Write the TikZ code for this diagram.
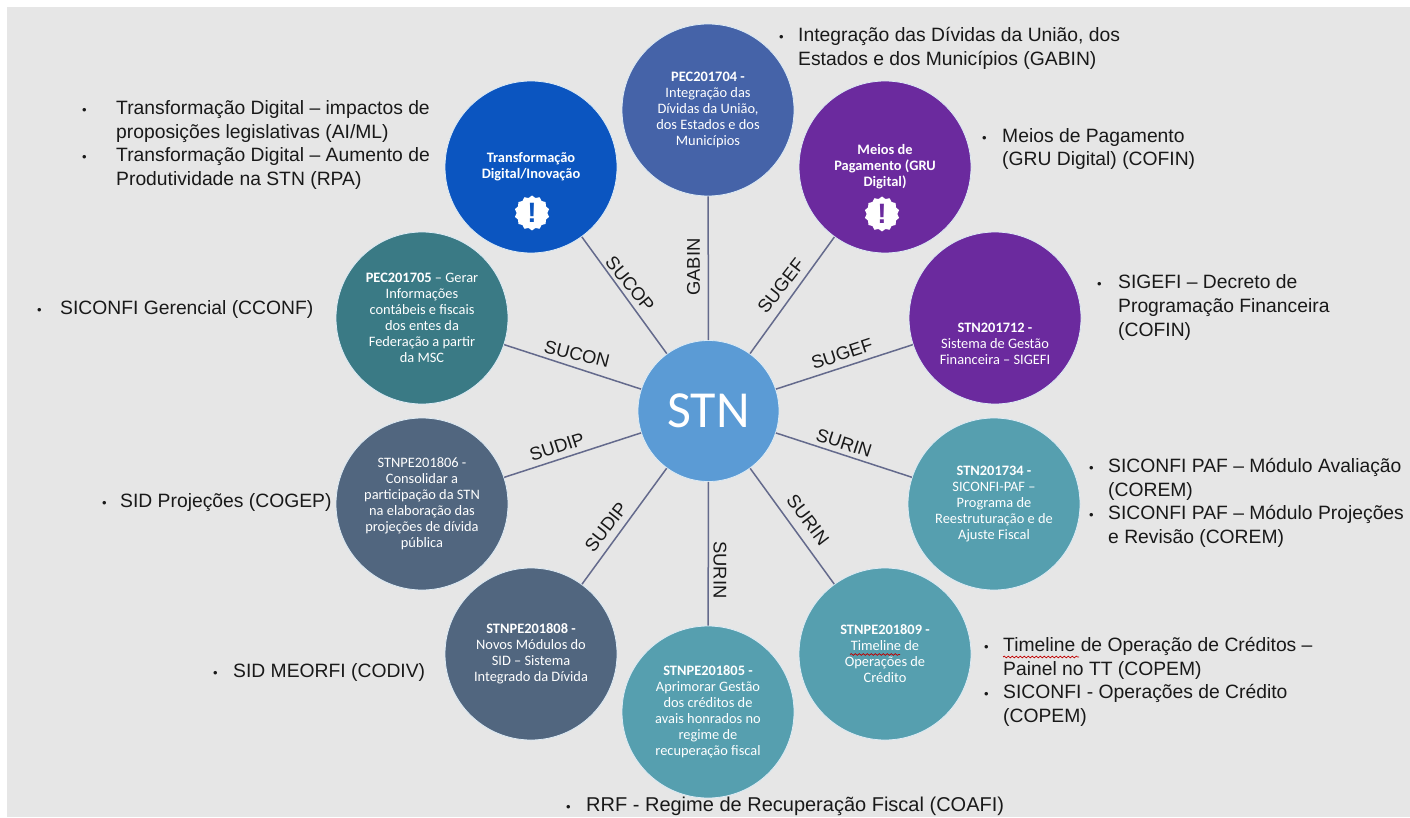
\documentclass[tikz,border=0pt]{standalone}
\usepackage{fontspec}
\setmainfont{Liberation Sans}
\newfontfamily\nodefont{Carlito}
\usetikzlibrary{shapes.geometric,decorations.pathmorphing}
\definecolor{bgc}{HTML}{E6E6E6}
\definecolor{linec}{HTML}{646A8C}
\definecolor{cblue}{HTML}{0B55C0}
\definecolor{cindigo}{HTML}{4563A8}
\definecolor{cpurple}{HTML}{6B2A9E}
\definecolor{cgreen}{HTML}{3A7A85}
\definecolor{cslate}{HTML}{51667F}
\definecolor{cteal}{HTML}{569FAF}
\definecolor{cstn}{HTML}{5B9BD5}
\definecolor{ringc}{HTML}{DDEBF5}
\newcommand{\bl}[1]{\makebox[#1pt][l]{\fontsize{13}{13}\selectfont •}}
\newcommand{\ind}[1]{\hspace*{#1pt}}
\tikzset{
  ball/.style={circle,draw=ringc,line width=0.8pt,minimum size=172pt,inner sep=0pt,text=white,align=center,
     font=\nodefont\fontsize{14.4}{16}\selectfont},
  list/.style={anchor=west,align=left,inner sep=0pt,text=black!90,font=\fontsize{19.3}{23.6}\selectfont},
  tag/.style={inner sep=0pt,text=black!90,font=\fontsize{18.4}{20}\selectfont},
  spoke/.style={draw=linec,line width=1.5pt},
  badge/.style={star,star points=14,star point ratio=1.14,fill=white,minimum size=35pt,inner sep=0pt},
  bang/.style={inner sep=0pt,font=\bfseries\fontsize{28}{28}\selectfont},
  wavy/.style={draw=red!75!black,line width=0.7pt,decorate,decoration={snake,amplitude=0.9pt,segment length=4pt}}
}
\begin{document}
\begin{tikzpicture}[x=1pt,y=-1pt]
\useasboundingbox (0,0) rectangle (1410,818);
\fill[white] (0,0) rectangle (1410,818);
\fill[bgc] (7,7) rectangle (1410,817);

\node[ball,fill=cstn,minimum size=141pt,font=\nodefont\fontsize{52}{52}\selectfont] (stn) at (708.5,411) {STN};

\node[ball,fill=cindigo] (pec704) at (708,110) {\textbf{PEC201704 -}\\Integração das\\Dívidas da União,\\dos Estados e dos\\Municípios};
\node[ball,fill=cblue] (dig) at (531,167) {\textbf{Transformação}\\\textbf{Digital/Inovação}};
\node[ball,fill=cpurple] (gru) at (885,167) {\textbf{Meios de}\\\textbf{Pagamento (GRU}\\\textbf{Digital)}};
\node[ball,fill=cpurple] (s712) at (995,318) {};
\node[text=white,align=center,inner sep=0pt,font=\nodefont\fontsize{14.4}{16}\selectfont] (s712t) at (995,344) {\textbf{STN201712 -}\\Sistema de Gestão\\Financeira – SIGEFI};
\node[ball,fill=cteal] (s734) at (994,504) {\textbf{STN201734 -}\\SICONFI-PAF –\\Programa de\\Reestruturação e de\\Ajuste Fiscal};
\node[ball,fill=cteal] (s809) at (885,654) {\textbf{STNPE201809 -}\\Timeline de\\Operações de\\Crédito};
\node[ball,fill=cteal] (s805) at (708,712) {\textbf{STNPE201805 -}\\Aprimorar Gestão\\dos créditos de\\avais honrados no\\regime de\\recuperação fiscal};
\node[ball,fill=cslate] (s808) at (531,654) {\textbf{STNPE201808 -}\\Novos Módulos do\\SID – Sistema\\Integrado da Dívida};
\node[ball,fill=cslate] (s806) at (422,504) {STNPE201806 -\\Consolidar a\\participação da STN\\na elaboração das\\projeções de dívida\\pública};
\node[ball,fill=cgreen] (p705) at (422,318) {\textbf{PEC201705} – Gerar\\Informações\\contábeis e fiscais\\dos entes da\\Federação a partir\\da MSC};

\node[badge] (bd1) at (532,213) {};
\node[bang,text=cblue] (bg1) at (532,213) {!};
\node[badge] (bd2) at (882,214) {};
\node[bang,text=cpurple] (bg2) at (882,214) {!};

\draw[spoke] (stn) -- (pec704);
\draw[spoke] (stn) -- (dig);
\draw[spoke] (stn) -- (gru);
\draw[spoke] (stn) -- (s712);
\draw[spoke] (stn) -- (s734);
\draw[spoke] (stn) -- (s809);
\draw[spoke] (stn) -- (s805);
\draw[spoke] (stn) -- (s808);
\draw[spoke] (stn) -- (s806);
\draw[spoke] (stn) -- (p705);

\node[tag,rotate=-51] (t1) at (630,284) {SUCOP};
\node[tag,rotate=90] (t2) at (693.5,267) {GABIN};
\node[tag,rotate=52] (t3) at (781,286) {SUGEF};
\node[tag,rotate=18] (t4) at (842,354) {SUGEF};
\node[tag,rotate=-18] (t5) at (844,443) {SURIN};
\node[tag,rotate=-53] (t6) at (808,520) {SURIN};
\node[tag,rotate=-90] (t7) at (720,570) {SURIN};
\node[tag,rotate=52] (t8) at (606,527) {SUDIP};
\node[tag,rotate=18] (t9) at (557,447) {SUDIP};
\node[tag,rotate=-14] (t10) at (577,354) {SUCON};

\node[list] (l1) at (779,48.5) {\bl{19}Integração das Dívidas da União, dos\\\ind{19}Estados e dos Municípios (GABIN)};
\node[list] (l2) at (982,149) {\bl{20}Meios de Pagamento\\\ind{20}(GRU Digital) (COFIN)};
\node[list] (l3) at (1097,307.5) {\bl{21}SIGEFI – Decreto de\\\ind{21}Programação Financeira\\\ind{21}(COFIN)};
\node[list] (l4) at (1089,503) {\bl{19}SICONFI PAF – Módulo Avaliação\\\ind{19}(COREM)\\\bl{19}SICONFI PAF – Módulo Projeções\\\ind{19}e Revisão (COREM)};
\node[list] (l5) at (984,682) {\bl{19}Timeline de Operação de Créditos –\\\ind{19}Painel no TT (COPEM)\\\bl{19}SICONFI - Operações de Crédito\\\ind{19}(COPEM)};
\node[list,font=\fontsize{20}{24}\selectfont] (l6) at (566,806) {\bl{20}RRF - Regime de Recuperação Fiscal (COAFI)};
\node[list] (l7) at (213,672) {\bl{20}SID MEORFI (CODIV)};
\node[list] (l8) at (102,503) {\bl{18}SID Projeções (COGEP)};
\node[list] (l9) at (37,310) {\bl{23}SICONFI Gerencial (CCONF)};
\node[list] (l10) at (82,145) {\bl{34}Transformação Digital – impactos de\\\ind{34}proposições legislativas (AI/ML)\\\bl{34}Transformação Digital – Aumento de\\\ind{34}Produtividade na STN (RPA)};

\coordinate (wa1) at (850,654.5);
\coordinate (wa2) at (900,654.5);
\coordinate (wb1) at (1003,657);
\coordinate (wb2) at (1079,657);
\draw[wavy] (wa1) -- (wa2);
\draw[wavy] (wb1) -- (wb2);
\end{tikzpicture}
\end{document}
